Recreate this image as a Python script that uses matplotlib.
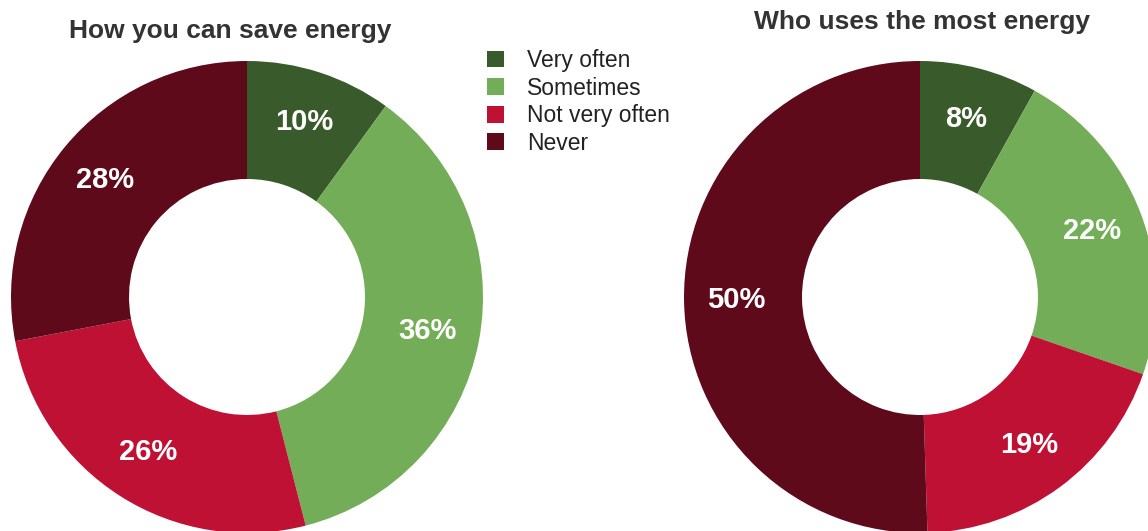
import numpy as np
import matplotlib.pyplot as plt

categories = ['Very often', 'Sometimes', 'Not very often', 'Never']
save_energy = [10, 36, 26, 28]
most_energy = [8, 22, 19, 50]
colors = ['#395a2a', '#74ad57', '#bf1134', '#5e0a1b']

W, H = 1148, 531
fig = plt.figure(figsize=(W / 100, H / 100), dpi=100)
ax = fig.add_axes([0, 0, 1, 1])

R = 236


def donut(values, cx, cy):
    wedges, _ = ax.pie(values, colors=colors, startangle=90, counterclock=False,
                       center=(cx, cy), radius=R, frame=True,
                       wedgeprops=dict(width=R * 0.5, linewidth=0))
    for w, v in zip(wedges, values):
        ang = np.deg2rad((w.theta1 + w.theta2) / 2)
        r = R * 0.78
        ax.text(cx + r * np.cos(ang), cy + r * np.sin(ang), f'{v}%',
                ha='center', va='center', color='white', fontsize=21,
                fontweight='bold', family='Liberation Sans')
    return wedges


wl = donut(save_energy, 247, H - 297)
donut(most_energy, 920, H - 297)
ax.set_xlim(0, W)
ax.set_ylim(0, H)
ax.set_aspect('equal')
ax.axis('off')

ax.text(230, H - 31, 'How you can save energy', ha='center', va='center',
        fontsize=19, fontweight='bold', color='#333333', family='Liberation Sans')
ax.text(922, H - 22, 'Who uses the most energy', ha='center', va='center',
        fontsize=19, fontweight='bold', color='#333333', family='Liberation Sans')

leg = ax.legend(wl, categories, loc='upper left', bbox_to_anchor=(487 / W, 1 - 49 / H),
                frameon=False, borderpad=0, borderaxespad=0,
                handlelength=0.75, handleheight=0.75, handletextpad=1.0,
                labelspacing=0.2, prop={'family': 'Liberation Sans', 'size': 16.5})
for t in leg.get_texts():
    t.set_color('#222222')

fig.savefig('out.png', dpi=100)
